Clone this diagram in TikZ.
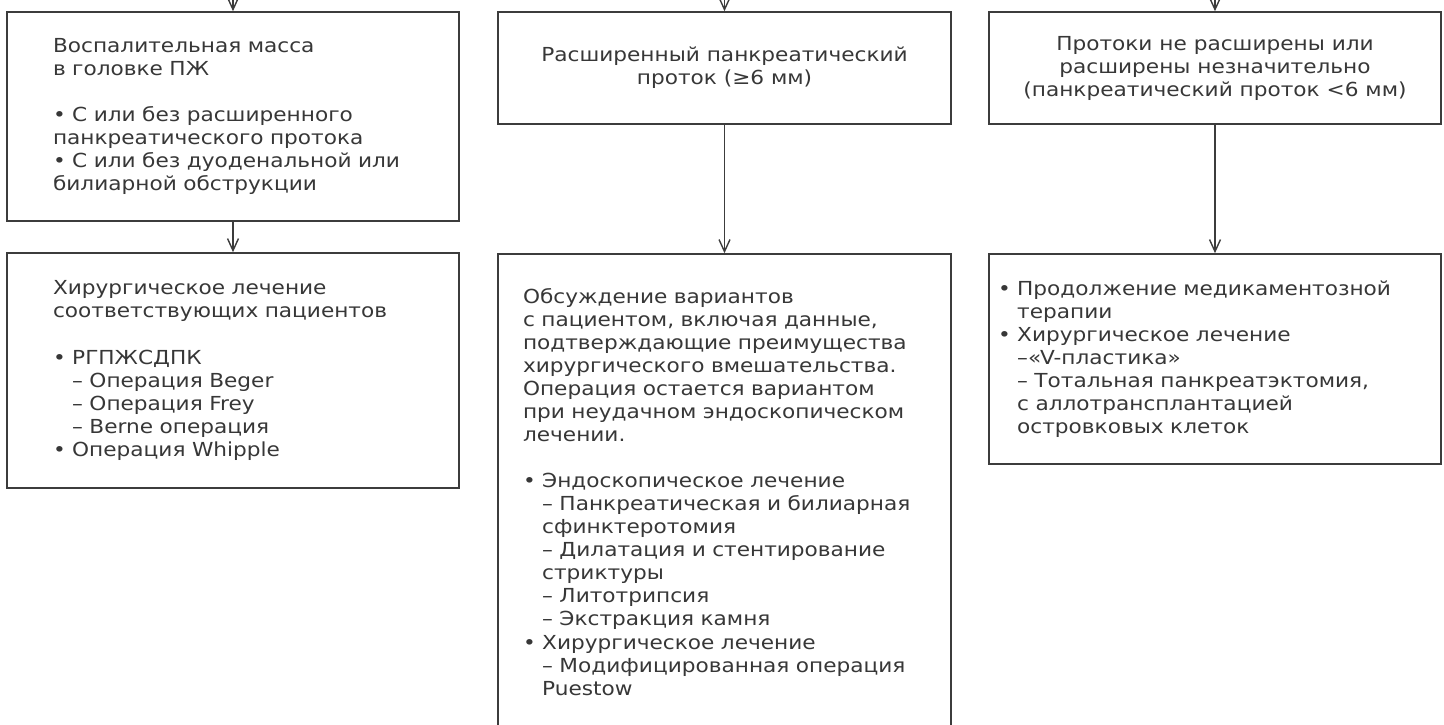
\documentclass[tikz,border=0pt]{standalone}
\usepackage{fontspec}
\setmainfont[FakeStretch=1.12]{DejaVu Sans}
\usepackage{tikz}
\usetikzlibrary{arrows.meta,positioning}
\definecolor{boxLine}{RGB}{60,60,60}
\definecolor{boxText}{RGB}{55,55,55}
\newcommand{\ind}{\hphantom{•\ }}

\begin{document}
\begin{tikzpicture}[
  blk/.style={rectangle,draw=boxLine,line width=0.9pt,inner sep=0pt,
              text=boxText,font=\fontsize{11}{13.1}\selectfont},
  blkl/.style={blk,align=left},
  blkc/.style={blk,align=center},
  fl/.style={-{Straight Barb[length=2.4mm,width=2.2mm]},draw=boxLine,line width=0.8pt}
]
  \useasboundingbox (0,0) rectangle (28.88,14.48);

  % top row
  \node[blkl,minimum width=9.04cm,minimum height=4.18cm,text width=7.2cm](infl) at (4.66,12.15)
    {Воспалительная масса\\в головке ПЖ\\[\baselineskip]
     • С или без расширенного\\панкреатического протока\\
     • С или без дуоденальной или\\билиарной обструкции};
  \node[blkc,minimum width=9.06cm,minimum height=2.24cm](dil) at (14.49,13.12)
    {Расширенный панкреатический\\проток (≥6 мм)};
  \node[blkc,minimum width=9.04cm,minimum height=2.24cm](nodil) at (24.30,13.12)
    {Протоки не расширены или\\расширены незначительно\\(панкреатический проток <6 мм)};

  % bottom row
  \node[blkl,minimum width=9.04cm,minimum height=4.70cm,text width=7.2cm](surg) at (4.66,7.07)
    {Хирургическое лечение\\соответствующих пациентов\\[\baselineskip]
     • РГПЖСДПК\\
     \ind– Операция Beger\\
     \ind– Операция Frey\\
     \ind– Berne операция\\
     • Операция Whipple};
  \node[blkl,minimum width=9.06cm,minimum height=9.52cm,text width=8.06cm](disc) at (14.49,4.64)
    {Обсуждение вариантов\\с пациентом, включая данные,\\подтверждающие преимущества\\
     хирургического вмешательства.\\Операция остается вариантом\\
     при неудачном эндоскопическом\\лечении.\\[\baselineskip]
     • Эндоскопическое лечение\\
     \ind– Панкреатическая и билиарная\\\ind сфинктеротомия\\
     \ind– Дилатация и стентирование\\\ind стриктуры\\
     \ind– Литотрипсия\\
     \ind– Экстракция камня\\
     • Хирургическое лечение\\
     \ind– Модифицированная операция\\\ind Puestow};
  \node[blkl,minimum width=9.04cm,minimum height=4.20cm,text width=8.68cm](cont) at (24.30,7.30)
    {• Продолжение медикаментозной\\\ind терапии\\
     • Хирургическое лечение\\
     \ind–«V-пластика»\\
     \ind– Тотальная панкреатэктомия,\\
     \ind с аллотрансплантацией\\
     \ind островковых клеток};

  % incoming arrows from above
  \coordinate (inA) at (4.66,14.48);
  \coordinate (inB) at (14.49,14.48);
  \coordinate (inC) at (24.30,14.48);
  \draw[fl](inA)--(infl.north);
  \draw[fl](inB)--(dil.north);
  \draw[fl](inC)--(nodil.north);

  \draw[fl](infl.south)--(surg.north);
  \draw[fl](dil.south)--(disc.north);
  \draw[fl](nodil.south)--(cont.north);
\end{tikzpicture}
\end{document}
